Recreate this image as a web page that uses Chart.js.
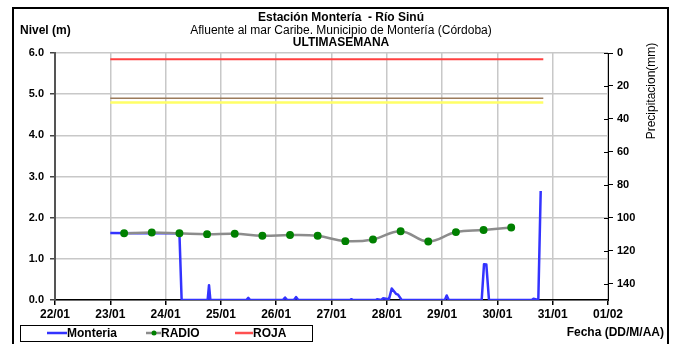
<!DOCTYPE html>
<html>
<head>
<meta charset="utf-8">
<script src="https://cdn.jsdelivr.net/npm/chart.js@4.4.1/dist/chart.umd.min.js"></script>
<style>
  html, body { margin: 0; padding: 0; background: #fff; }
  canvas { display: block; }
</style>
</head>
<body>
<canvas id="nivel-chart" width="676" height="344"></canvas>
<script>
// Días desde 22/01 00:00 en el eje x
const dayLabels = ['22/01', '23/01', '24/01', '25/01', '26/01', '27/01', '28/01', '29/01', '30/01', '31/01', '01/02'];

// Nivel observado, estación Montería (m)
const monteriaDays = [1.0, 1.5, 2.25, 2.29, 2.76, 2.785, 2.81, 3.46, 3.495, 3.53, 4.12, 4.16, 4.2, 4.32, 4.358, 4.4,
    5.33, 5.36, 5.39, 5.80, 5.823, 5.90, 5.931, 6.04, 6.089, 6.166, 6.203, 6.269, 7.05, 7.083, 7.12, 7.716, 7.758, 7.80, 7.848,
    8.62, 8.652, 8.74, 8.783];
const monteriaLevels = [1.63, 1.62, 1.62, 0, 0, 0.36, 0, 0, 0.05, 0, 0, 0.06, 0, 0, 0.07, 0,
    0, 0.02, 0, 0, 0.02, 0, 0.04, 0.02, 0.28, 0.15, 0.13, 0, 0, 0.11, 0, 0, 0.87, 0.86, 0,
    0, 0.03, 0, 2.65];

// Lecturas de radio cada 12 h (m)
const radioDays = [1.25, 1.75, 2.25, 2.75, 3.25, 3.75, 4.25, 4.75, 5.25, 5.75, 6.25, 6.75, 7.25, 7.75, 8.25];
const radioLevels = [1.62, 1.64, 1.62, 1.60, 1.61, 1.56, 1.58, 1.56, 1.43, 1.47, 1.67, 1.42, 1.65, 1.70, 1.76];

// Umbrales (m) y tramo que cubren
const thresholdSpan = [1.0, 8.83];
const rojaLevel = 5.85;
const naranjaLevel = 4.9;
const amarillaLevel = 4.8;

// Escalas
const levelTicks = [0, 1, 2, 3, 4, 5, 6];
const precipTicks = [0, 20, 40, 60, 80, 100, 120, 140];

const FONT = '"Liberation Sans", Arial, sans-serif';

function toPoints(xs, ys) {
    return xs.map(function (x, i) { return { x: x, y: ys[i] }; });
}

function flatLine(level) {
    return thresholdSpan.map(function (x) { return { x: x, y: level }; });
}

const framePlugin = {
    id: 'frame',
    beforeDraw: function (chart) {
        const ctx = chart.ctx;
        ctx.save();
        ctx.fillStyle = '#fff';
        ctx.fillRect(0, 0, chart.width, chart.height);
        ctx.strokeStyle = '#000';
        ctx.lineWidth = 2;
        ctx.strokeRect(13, 8, 655, 350);
        ctx.restore();
    },
    afterDraw: function (chart) {
        const ctx = chart.ctx;
        const area = chart.chartArea;
        ctx.save();
        ctx.fillStyle = '#000';
        ctx.textAlign = 'center';
        ctx.textBaseline = 'middle';
        ctx.font = 'bold 12px ' + FONT;
        ctx.fillText('Estación Montería  - Río Sinú', 341, 18);
        ctx.font = '12px ' + FONT;
        ctx.fillText('Afluente al mar Caribe. Municipio de Montería (Córdoba)', 341, 31);
        ctx.font = 'bold 12px ' + FONT;
        ctx.fillText('ULTIMASEMANA', 341, 43);

        ctx.textAlign = 'left';
        ctx.fillText('Nivel (m)', 20, 31);

        ctx.textAlign = 'right';
        ctx.fillText('Fecha (DD/M/AA)', 664, 333);

        // título del eje de precipitación
        ctx.save();
        ctx.translate(652, 91);
        ctx.rotate(-Math.PI / 2);
        ctx.textAlign = 'center';
        ctx.font = '12px ' + FONT;
        ctx.fillText('Precipitacion(mm)', 0, 0);
        ctx.restore();

        // marcas hacia dentro en el eje derecho
        const y2 = chart.scales.y2;
        ctx.strokeStyle = '#000';
        ctx.lineWidth = 1;
        precipTicks.forEach(function (v) {
            const py = Math.round(y2.getPixelForValue(v)) + 0.5;
            ctx.beginPath();
            ctx.moveTo(area.right - 4, py);
            ctx.lineTo(area.right, py);
            ctx.stroke();
        });

        // leyenda
        ctx.lineWidth = 1;
        ctx.strokeStyle = '#000';
        ctx.strokeRect(20.5, 325.5, 292, 16);
        ctx.font = 'bold 12px ' + FONT;
        ctx.textAlign = 'left';
        const ly = 333;
        const items = [
            { x: 47, w: 20, color: '#3333ff', dot: false, label: 'Monteria' },
            { x: 146, w: 15, color: '#8c8c8c', dot: true, label: 'RADIO' },
            { x: 235, w: 18, color: '#ff5050', dot: false, label: 'ROJA' }
        ];
        items.forEach(function (it) {
            ctx.strokeStyle = it.color;
            ctx.lineWidth = 2.5;
            ctx.beginPath();
            ctx.moveTo(it.x, ly);
            ctx.lineTo(it.x + it.w, ly);
            ctx.stroke();
            if (it.dot) {
                ctx.fillStyle = '#008000';
                ctx.beginPath();
                ctx.arc(it.x + 8, ly, 2.5, 0, Math.PI * 2);
                ctx.fill();
            }
            ctx.fillStyle = '#000';
            ctx.fillText(it.label, it.x + it.w, ly + 1);
        });
        ctx.restore();
    }
};

new Chart(document.getElementById('nivel-chart'), {
    type: 'line',
    data: {
        datasets: [
            {
                label: 'RADIO',
                data: toPoints(radioDays, radioLevels),
                borderColor: '#8c8c8c',
                borderWidth: 2.5,
                pointBackgroundColor: '#008000',
                pointBorderColor: '#008000',
                pointRadius: 2.7,
                tension: 0.4,
                order: 0
            },
            {
                label: 'Monteria',
                data: toPoints(monteriaDays, monteriaLevels),
                borderColor: '#3333ff',
                borderWidth: 2.5,
                borderJoinStyle: 'round',
                pointRadius: 0,
                tension: 0,
                order: 1
            },
            {
                label: 'ROJA',
                data: flatLine(rojaLevel),
                borderColor: '#ff4040',
                borderWidth: 2,
                pointRadius: 0,
                order: 2
            },
            {
                label: 'NARANJA',
                data: flatLine(naranjaLevel),
                borderColor: '#9b7b5b',
                borderWidth: 1.5,
                pointRadius: 0,
                order: 3
            },
            {
                label: 'AMARILLA',
                data: flatLine(amarillaLevel),
                borderColor: '#ffff66',
                borderWidth: 2.5,
                pointRadius: 0,
                order: 4
            }
        ]
    },
    options: {
        responsive: false,
        animation: false,
        events: [],
        layout: { padding: { top: 53, left: 0, right: 0, bottom: 0 } },
        plugins: {
            legend: { display: false },
            title: { display: false },
            tooltip: { enabled: false }
        },
        scales: {
            x: {
                type: 'linear',
                min: 0,
                max: 10,
                afterFit: function (s) { s.height = 44; },
                afterBuildTicks: function (s) {
                    s.ticks = dayLabels.map(function (_, i) { return { value: i }; });
                },
                ticks: {
                    callback: function (v) { return dayLabels[v]; },
                    color: '#000',
                    font: { family: FONT, size: 12, weight: 'bold' },
                    maxRotation: 0,
                    padding: 2
                },
                grid: { color: '#c8c8c8', lineWidth: 1.5, tickLength: 5, tickColor: '#000' },
                border: { color: '#000', width: 1.5 }
            },
            y: {
                position: 'left',
                min: 0,
                max: 6,
                afterFit: function (s) { s.width = 55; },
                afterBuildTicks: function (s) {
                    s.ticks = levelTicks.map(function (v) { return { value: v }; });
                },
                ticks: {
                    callback: function (v) { return v.toFixed(1); },
                    color: '#000',
                    font: { family: FONT, size: 11, weight: 'bold' },
                    padding: 6
                },
                grid: { color: '#c8c8c8', lineWidth: 1.5, tickLength: 5, tickColor: '#444' },
                border: { color: '#555', width: 2 }
            },
            y2: {
                position: 'right',
                reverse: true,
                min: 0,
                max: 150,
                afterFit: function (s) { s.width = 68; },
                afterBuildTicks: function (s) {
                    s.ticks = precipTicks.map(function (v) { return { value: v }; });
                },
                ticks: {
                    color: '#000',
                    font: { family: FONT, size: 11, weight: 'bold' },
                    padding: 4
                },
                grid: { drawOnChartArea: false, tickLength: 5, tickColor: '#000' },
                border: { color: '#000', width: 1 }
            }
        }
    },
    plugins: [framePlugin]
});
</script>
</body>
</html>
